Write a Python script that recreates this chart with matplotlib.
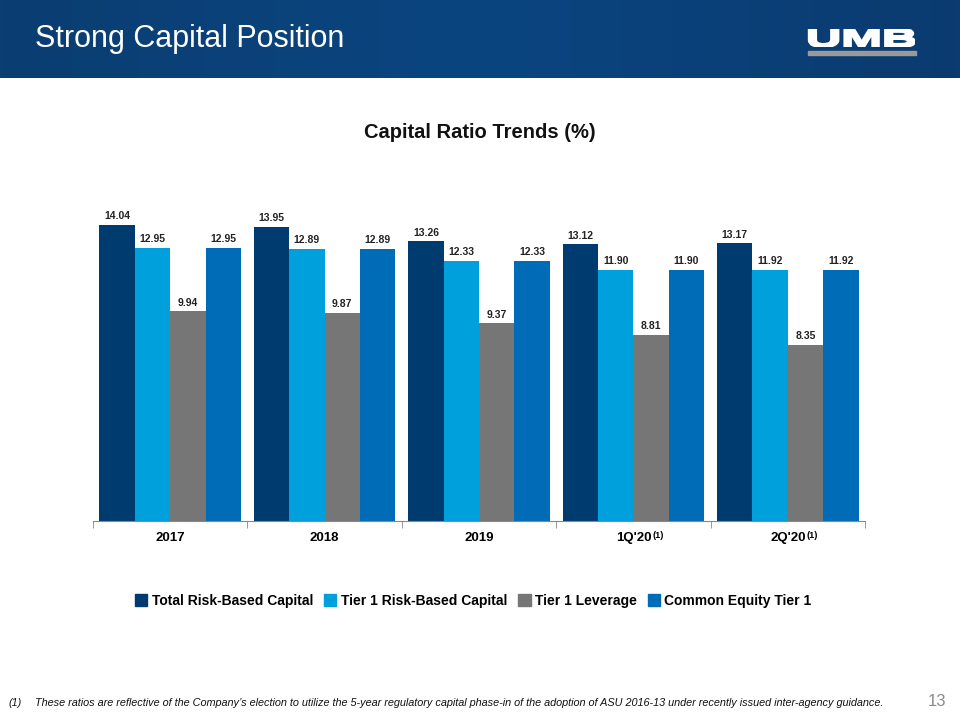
import numpy as np
import matplotlib.pyplot as plt
from matplotlib.patches import Rectangle, Patch, PathPatch
from matplotlib.colors import LinearSegmentedColormap
from matplotlib.textpath import TextPath
from matplotlib.font_manager import FontProperties
from matplotlib.path import Path

plt.rcParams['font.family'] = ['Liberation Sans', 'DejaVu Sans']

# Data
categories = ["2017", "2018", "2019", "1Q'20", "2Q'20"]
footnoted = [False, False, False, True, True]
series_names = ["Total Risk-Based Capital", "Tier 1 Risk-Based Capital",
                "Tier 1 Leverage", "Common Equity Tier 1"]
total_rbc = [14.04, 13.95, 13.26, 13.12, 13.17]
tier1_rbc = [12.95, 12.89, 12.33, 11.90, 11.92]
tier1_lev = [9.94, 9.87, 9.37, 8.81, 8.35]
cet1 = [12.95, 12.89, 12.33, 11.90, 11.92]
series = [total_rbc, tier1_rbc, tier1_lev, cet1]
colors = ["#003b6f", "#00a0dc", "#767676", "#006bb6"]

fig = plt.figure(figsize=(9.6, 7.2), dpi=100)

# header band
hdr = fig.add_axes([0, 1 - 78 / 720, 1, 78 / 720])
grad = np.linspace(0, 1, 256).reshape(1, -1)
cmap = LinearSegmentedColormap.from_list("hdr", ["#0b3e72", "#0a4580", "#0b3b70"])
hdr.imshow(grad, aspect="auto", cmap=cmap, extent=[0, 1, 0, 1])
hdr.set_xlim(0, 1)
hdr.set_ylim(0, 1)
hdr.axis("off")
hdr.text(35 / 960, 0.50, "Strong Capital Position", color="white", fontsize=22,
         va="center", ha="left")
hdr.add_patch(Rectangle((808 / 960, 1 - 55 / 78), 108 / 960, 4 / 78, color="#9a9a9a",
                        transform=hdr.transAxes))

# logo: stretched heavy lettering
logo = fig.add_axes([806 / 960, 1 - 47 / 720, 109 / 960, 18 / 720])
tp = TextPath((0, 0), "UMB", size=10, prop=FontProperties(family="Liberation Sans", weight="bold"))
v = tp.vertices.copy()
v[:, 0] = (v[:, 0] - v[:, 0].min()) / (v[:, 0].max() - v[:, 0].min())
v[:, 1] = (v[:, 1] - v[:, 1].min()) / (v[:, 1].max() - v[:, 1].min())
logo.add_patch(PathPatch(Path(v, tp.codes), facecolor="white", edgecolor="white", lw=1.6))
logo.set_xlim(0, 1)
logo.set_ylim(0, 1)
logo.axis("off")

fig.text(0.5, 1 - 133 / 720, "Capital Ratio Trends (%)", ha="center", va="center",
         fontsize=14.5, fontweight="bold", color="#111111")

ax = fig.add_axes([93 / 960, 1 - 521 / 720, 772 / 960, 351 / 720])
x = np.arange(len(categories))
w = 0.229
for i, (vals, c) in enumerate(zip(series, colors)):
    pos = x + (i - 1.5) * w
    bars = ax.bar(pos, vals, width=w, color=c, label=series_names[i])
    for b, val in zip(bars, vals):
        ax.text(b.get_x() + b.get_width() / 2, val + 0.18, f"{val:.2f}", ha="center",
                va="bottom", fontsize=7.5, fontweight="bold", color="#222222")

ax.set_xlim(-0.5, len(categories) - 0.5)
ax.set_ylim(0, 16.65)
ax.set_yticks([])
for s in ["top", "left", "right"]:
    ax.spines[s].set_visible(False)
ax.spines["bottom"].set_color("#888888")
ax.set_xticks(x)
ax.set_xticklabels(categories, fontsize=9.5, fontweight="bold")
ax.tick_params(axis="x", which="major", length=0, pad=8)
ax.set_xticks(np.arange(-0.5, len(categories)), minor=True)
ax.tick_params(axis="x", which="minor", length=5, color="#888888")

# superscript footnote markers next to tick labels
fig.canvas.draw()
inv = fig.transFigure.inverted()
for lbl, f in zip(ax.get_xticklabels(), footnoted):
    if f:
        bb = lbl.get_window_extent()
        px, py = inv.transform((bb.x1 + 1, bb.y1 + 1))
        fig.text(px, py, "(1)", fontsize=6.5, fontweight="bold", ha="left", va="top")

handles = [Patch(color=c) for c in colors]
fig.legend(handles, series_names, loc="center", bbox_to_anchor=(0.493, 1 - 601 / 720),
           ncol=4, frameon=False, handlelength=0.9, handleheight=0.9,
           handletextpad=0.3, columnspacing=0.8,
           prop={"size": 10, "weight": "bold"})

fig.text(8 / 960, 1 - 703 / 720, "(1)", fontsize=7.8, style="italic",
         va="center", ha="left", color="#111111")
fig.text(35 / 960, 1 - 703 / 720,
         "These ratios are reflective of the Company\u2019s election to utilize the 5-year regulatory "
         "capital phase-in of the adoption of ASU 2016-13 under recently issued inter-agency guidance.",
         fontsize=7.8, style="italic", va="center", ha="left", color="#111111")
fig.text(946 / 960, 1 - 701 / 720, "13", fontsize=12, color="#8a8a8a",
         va="center", ha="right")

fig.savefig("out.png", dpi=100)
